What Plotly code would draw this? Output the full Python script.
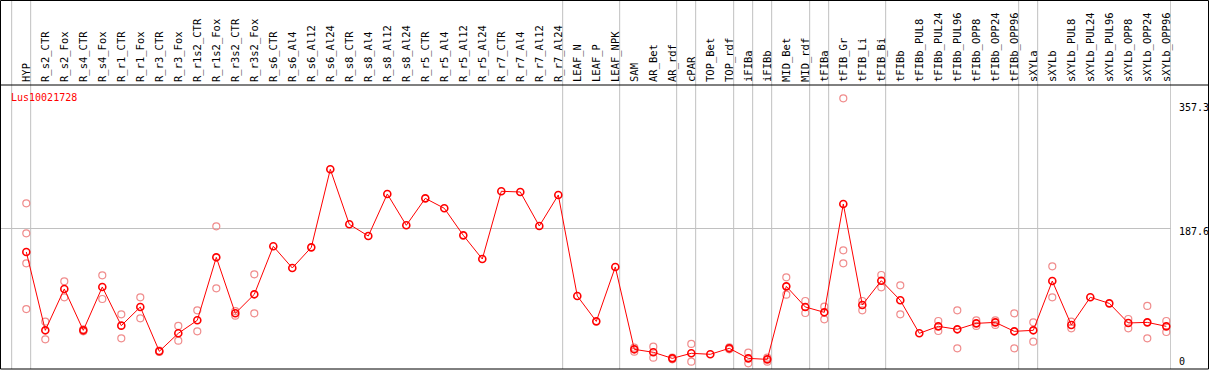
import plotly.graph_objects as go

categories = ["HYP", "R_s2_CTR", "R_s2_Fox", "R_s4_CTR", "R_s4_Fox", "R_r1_CTR", "R_r1_Fox",
              "R_r3_CTR", "R_r3_Fox", "R_r1s2_CTR", "R_r1s2_Fox", "R_r3s2_CTR", "R_r3s2_Fox",
              "R_s6_CTR", "R_s6_Al4", "R_s6_Al12", "R_s6_Al24", "R_s8_CTR", "R_s8_Al4",
              "R_s8_Al12", "R_s8_Al24", "R_r5_CTR", "R_r5_Al4", "R_r5_Al12", "R_r5_Al24",
              "R_r7_CTR", "R_r7_Al4", "R_r7_Al12", "R_r7_Al24", "LEAF_N", "LEAF_P", "LEAF_NPK",
              "SAM", "AR_Bet", "AR_rdf", "cPAR", "TOP_Bet", "TOP_rdf", "iFIBa", "iFIBb",
              "MID_Bet", "MID_rdf", "tFIBa", "tFIB_Gr", "tFIB_Li", "tFIB_Bi", "tFIBb",
              "tFIBb_PUL8", "tFIBb_PUL24", "tFIBb_PUL96", "tFIBb_OPP8", "tFIBb_OPP24",
              "tFIBb_OPP96", "sXYLa", "sXYLb", "sXYLb_PUL8", "sXYLb_PUL24", "sXYLb_PUL96",
              "sXYLb_OPP8", "sXYLb_OPP24", "sXYLb_OPP96"]

mean_values = [156.7, 54.4, 108.4, 54.4, 111.0, 60.5, 84.9, 27.0, 50.5, 67.5, 149.7, 76.6, 101.4,
               164.1, 135.8, 162.7, 264.6, 192.8, 177.5, 232.4, 191.5, 226.7, 213.7, 178.4, 147.5,
               235.9, 235.0, 190.6, 231.1, 99.2, 66.1, 137.1,
               29.6, 25.7, 17.8, 24.4, 23.1, 30.9, 17.8, 16.5,
               111.8, 84.9, 77.9, 219.3, 87.5, 119.2, 93.6,
               50.5, 59.6, 55.7, 63.5, 64.8, 53.1, 54.4, 118.8,
               61.4, 97.5, 89.6, 64.0, 64.8, 59.6]

replicate_values = [
    [220.2, 181.0, 141.9, 82.2], [65.7, 42.6], [118.4, 97.5], [55.7, 53.1], [126.2, 95.3],
    [75.3, 44.0], [97.5, 70.1], [27.8, 26.2], [60.1, 40.9], [80.5, 53.1], [190.2, 109.2],
    [79.6, 73.5], [127.5, 76.6],
    [], [], [], [], [], [], [], [], [], [], [], [], [], [], [], [], [], [], [],
    [31.8, 26.5], [33.1, 18.7], [18.7, 16.5], [36.6, 13.5], [], [32.2, 29.6], [25.2, 11.3],
    [18.7, 13.5],
    [123.6, 101.0], [92.7, 77.0], [85.3, 68.8], [357.3, 158.8, 141.9], [92.7, 80.5],
    [126.6, 110.5], [113.1, 75.3],
    [], [66.6, 53.5], [80.5, 30.9], [67.5, 60.1], [67.5, 61.4], [76.6, 30.9], [64.8, 39.6],
    [137.9, 97.5],
    [65.7, 57.0], [], [], [69.2, 57.0], [86.2, 44.0], [66.6, 52.2]]

group_ends = [-1, 0, 28, 31, 34, 35, 37, 38, 39, 41, 42, 45, 52, 53, 60]
y_tick_labels = ["357.3", "187.6", "0"]
y_tick_values = [357.3, 187.6, 0]
gene_name = "Lus10021728"

W, H = 1209, 370
L, R, T, B = 1, 38, 85, 1
x_idx = list(range(len(categories)))

rep_x = [i for i, r in enumerate(replicate_values) for _ in r]
rep_y = [v for r in replicate_values for v in r]

fig = go.Figure()
fig.add_trace(go.Scatter(
    x=rep_x, y=rep_y, mode="markers",
    marker=dict(symbol="circle-open", size=7, color="rgb(240,140,140)", line=dict(width=1.2)),
    hoverinfo="skip", showlegend=False, cliponaxis=False))
fig.add_trace(go.Scatter(
    x=x_idx, y=mean_values, mode="lines+markers",
    line=dict(color="red", width=1),
    marker=dict(symbol="circle-open", size=7, color="red", line=dict(width=1.6)),
    showlegend=False, cliponaxis=False))

plot_w = W - L - R
plot_h = H - T - B
top_paper = (H - B - 0.5) / plot_h
right_paper = (W - L - 0.5) / plot_w
left_paper = (0.5 - L) / plot_w

x_lo = (L - 26.3) / 19.0
x_hi = (W - R - 26.3) / 19.0
k = 0.766
zero_px = 372
y_lo = (zero_px - (H - B)) / k
y_hi = (zero_px - T) / k

shapes = []
for g in group_ends:
    shapes.append(dict(type="line", xref="x", yref="paper", x0=g + 0.23, x1=g + 0.23,
                       y0=0, y1=top_paper, line=dict(color="#c0c0c0", width=1), layer="below"))
frame = dict(color="black", width=1)
shapes += [
    dict(type="line", xref="paper", yref="paper", x0=left_paper, x1=right_paper, y0=top_paper, y1=top_paper, line=frame),
    dict(type="line", xref="paper", yref="paper", x0=left_paper, x1=right_paper, y0=1, y1=1, line=frame),
    dict(type="line", xref="paper", yref="paper", x0=left_paper, x1=right_paper, y0=0, y1=0, line=frame),
    dict(type="line", xref="paper", yref="paper", x0=left_paper, x1=left_paper, y0=0, y1=top_paper, line=frame),
    dict(type="line", xref="paper", yref="paper", x0=right_paper, x1=right_paper, y0=0, y1=top_paper, line=frame),
]

annotations = [dict(text=gene_name, xref="paper", yref="paper", x=(9 - L) / plot_w,
                    y=(H - B - 97) / plot_h, xanchor="left", yanchor="middle", showarrow=False,
                    font=dict(family="DejaVu Sans Mono", size=10, color="red"))]
label_centers_px = [107, 231.7, 361.7]
for lab, val, cy in zip(y_tick_labels, y_tick_values, label_centers_px):
    annotations.append(dict(text=lab, xref="paper", yref="paper", x=(1177 - L) / plot_w,
                            y=(H - B - cy) / plot_h,
                            xanchor="left", yanchor="middle", showarrow=False,
                            font=dict(family="DejaVu Sans Mono", size=10, color="black")))

fig.update_layout(
    width=W, height=H,
    margin=dict(l=L, r=R, t=T, b=B, pad=0),
    paper_bgcolor="white", plot_bgcolor="white",
    shapes=shapes, annotations=annotations,
    xaxis=dict(range=[x_lo, x_hi], tickvals=x_idx, ticktext=categories, side="top",
               tickangle=-90, ticks="", showgrid=False, zeroline=False, showline=False,
               ticklabelstandoff=2,
               tickfont=dict(family="DejaVu Sans Mono", size=10.5, color="black"),
               automargin=False, fixedrange=True),
    yaxis=dict(range=[y_lo, y_hi], tickvals=[187.6], showticklabels=False, ticks="",
               showgrid=True, gridcolor="#c0c0c0", gridwidth=1, zeroline=False, showline=False,
               automargin=False, fixedrange=True),
)
fig.write_html("out.html", config={"displayModeBar": False},
               post_script="document.body.style.margin='0';document.body.style.overflow='hidden';")
